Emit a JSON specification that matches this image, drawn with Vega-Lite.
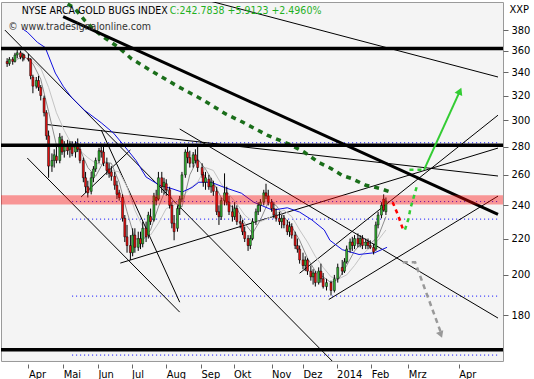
{
"$schema":"https://vega.github.io/schema/vega-lite/v6.json",
"width":502,"height":359,"autosize":"none",
"padding":{"left":1,"top":2,"right":31,"bottom":18},
"background":"#ffffff",
"config":{"view":{"fill":"#f4f4f4","stroke":"#9a9a9a","strokeWidth":1},"font":"DejaVu Sans Condensed"},
"datasets":{
"candles":[
{"d":"2013-03-13","o":350,"h":353,"l":345,"c":348},
{"d":"2013-03-15","o":348,"h":354,"l":346,"c":352},
{"d":"2013-03-18","o":352,"h":354,"l":347,"c":350},
{"d":"2013-03-20","o":350,"h":358,"l":349,"c":356},
{"d":"2013-03-22","o":356,"h":361,"l":353,"c":358},
{"d":"2013-03-25","o":358,"h":360,"l":352,"c":354},
{"d":"2013-03-27","o":354,"h":358,"l":350,"c":356},
{"d":"2013-03-28","o":356,"h":357,"l":351,"c":353},
{"d":"2013-04-01","o":353,"h":357,"l":350,"c":352},
{"d":"2013-04-03","o":352,"h":353,"l":334,"c":337},
{"d":"2013-04-05","o":336,"h":338,"l":322,"c":328},
{"d":"2013-04-08","o":328,"h":336,"l":326,"c":333},
{"d":"2013-04-10","o":333,"h":337,"l":324,"c":327},
{"d":"2013-04-12","o":327,"h":329,"l":316,"c":320},
{"d":"2013-04-15","o":318,"h":320,"l":303,"c":306},
{"d":"2013-04-17","o":306,"h":308,"l":285,"c":288},
{"d":"2013-04-19","o":288,"h":292,"l":258,"c":266},
{"d":"2013-04-22","o":266,"h":275,"l":262,"c":270},
{"d":"2013-04-24","o":270,"h":278,"l":265,"c":274},
{"d":"2013-04-26","o":273,"h":280,"l":268,"c":270},
{"d":"2013-04-29","o":270,"h":290,"l":268,"c":287},
{"d":"2013-05-01","o":285,"h":288,"l":274,"c":276},
{"d":"2013-05-03","o":277,"h":284,"l":272,"c":280},
{"d":"2013-05-06","o":280,"h":285,"l":274,"c":277},
{"d":"2013-05-08","o":278,"h":284,"l":272,"c":282},
{"d":"2013-05-10","o":281,"h":284,"l":273,"c":275},
{"d":"2013-05-13","o":276,"h":284,"l":272,"c":282},
{"d":"2013-05-15","o":282,"h":286,"l":276,"c":278},
{"d":"2013-05-17","o":278,"h":280,"l":268,"c":270},
{"d":"2013-05-20","o":270,"h":272,"l":255,"c":258},
{"d":"2013-05-22","o":258,"h":262,"l":248,"c":252},
{"d":"2013-05-24","o":252,"h":256,"l":245,"c":248},
{"d":"2013-05-27","o":249,"h":262,"l":247,"c":258},
{"d":"2013-05-29","o":258,"h":266,"l":255,"c":264},
{"d":"2013-05-31","o":264,"h":272,"l":262,"c":270},
{"d":"2013-06-03","o":270,"h":279,"l":268,"c":277},
{"d":"2013-06-05","o":277,"h":282,"l":272,"c":276},
{"d":"2013-06-07","o":276,"h":281,"l":266,"c":268},
{"d":"2013-06-10","o":268,"h":272,"l":260,"c":263},
{"d":"2013-06-12","o":264,"h":268,"l":258,"c":261},
{"d":"2013-06-14","o":262,"h":266,"l":256,"c":259},
{"d":"2013-06-17","o":259,"h":262,"l":250,"c":253},
{"d":"2013-06-19","o":253,"h":256,"l":244,"c":247},
{"d":"2013-06-21","o":248,"h":250,"l":243,"c":245},
{"d":"2013-06-24","o":245,"h":247,"l":230,"c":232},
{"d":"2013-06-26","o":232,"h":234,"l":218,"c":221},
{"d":"2013-06-28","o":221,"h":228,"l":212,"c":216},
{"d":"2013-07-01","o":216,"h":222,"l":208,"c":212},
{"d":"2013-07-03","o":212,"h":226,"l":210,"c":222},
{"d":"2013-07-05","o":222,"h":226,"l":212,"c":215},
{"d":"2013-07-08","o":215,"h":224,"l":213,"c":220},
{"d":"2013-07-10","o":220,"h":224,"l":214,"c":217},
{"d":"2013-07-12","o":217,"h":230,"l":215,"c":226},
{"d":"2013-07-15","o":226,"h":230,"l":218,"c":221},
{"d":"2013-07-17","o":222,"h":236,"l":220,"c":234},
{"d":"2013-07-19","o":233,"h":238,"l":228,"c":230},
{"d":"2013-07-22","o":231,"h":248,"l":230,"c":246},
{"d":"2013-07-24","o":245,"h":250,"l":240,"c":243},
{"d":"2013-07-26","o":244,"h":262,"l":243,"c":258},
{"d":"2013-07-29","o":258,"h":262,"l":248,"c":252},
{"d":"2013-07-31","o":252,"h":258,"l":247,"c":255},
{"d":"2013-08-02","o":254,"h":257,"l":246,"c":250},
{"d":"2013-08-05","o":250,"h":252,"l":238,"c":240},
{"d":"2013-08-07","o":240,"h":242,"l":226,"c":229},
{"d":"2013-08-09","o":229,"h":234,"l":219,"c":224},
{"d":"2013-08-12","o":226,"h":240,"l":224,"c":238},
{"d":"2013-08-14","o":238,"h":246,"l":234,"c":244},
{"d":"2013-08-16","o":244,"h":262,"l":242,"c":260},
{"d":"2013-08-19","o":260,"h":278,"l":258,"c":276},
{"d":"2013-08-21","o":276,"h":280,"l":268,"c":272},
{"d":"2013-08-23","o":272,"h":277,"l":265,"c":268},
{"d":"2013-08-26","o":268,"h":276,"l":265,"c":274},
{"d":"2013-08-28","o":274,"h":278,"l":268,"c":270},
{"d":"2013-08-30","o":270,"h":280,"l":262,"c":265},
{"d":"2013-09-03","o":265,"h":268,"l":258,"c":260},
{"d":"2013-09-04","o":260,"h":262,"l":252,"c":255},
{"d":"2013-09-06","o":255,"h":262,"l":250,"c":258},
{"d":"2013-09-09","o":257,"h":260,"l":250,"c":252},
{"d":"2013-09-11","o":252,"h":258,"l":248,"c":255},
{"d":"2013-09-13","o":253,"h":256,"l":246,"c":249},
{"d":"2013-09-16","o":249,"h":252,"l":234,"c":236},
{"d":"2013-09-18","o":236,"h":240,"l":228,"c":233},
{"d":"2013-09-20","o":233,"h":245,"l":231,"c":243},
{"d":"2013-09-23","o":243,"h":261,"l":240,"c":248},
{"d":"2013-09-25","o":248,"h":252,"l":240,"c":242},
{"d":"2013-09-27","o":242,"h":246,"l":234,"c":236},
{"d":"2013-09-30","o":236,"h":240,"l":230,"c":233},
{"d":"2013-10-02","o":233,"h":242,"l":231,"c":238},
{"d":"2013-10-04","o":238,"h":240,"l":228,"c":230},
{"d":"2013-10-07","o":230,"h":234,"l":226,"c":229},
{"d":"2013-10-09","o":229,"h":231,"l":222,"c":224},
{"d":"2013-10-11","o":224,"h":227,"l":218,"c":220},
{"d":"2013-10-14","o":220,"h":222,"l":213,"c":216},
{"d":"2013-10-16","o":216,"h":222,"l":214,"c":220},
{"d":"2013-10-18","o":220,"h":232,"l":219,"c":230},
{"d":"2013-10-21","o":230,"h":238,"l":228,"c":236},
{"d":"2013-10-23","o":236,"h":242,"l":234,"c":240},
{"d":"2013-10-25","o":240,"h":244,"l":236,"c":242},
{"d":"2013-10-28","o":242,"h":250,"l":240,"c":248},
{"d":"2013-10-30","o":248,"h":254,"l":244,"c":246},
{"d":"2013-11-01","o":246,"h":250,"l":240,"c":242},
{"d":"2013-11-04","o":242,"h":244,"l":236,"c":238},
{"d":"2013-11-06","o":238,"h":242,"l":232,"c":234},
{"d":"2013-11-08","o":234,"h":238,"l":230,"c":232},
{"d":"2013-11-11","o":232,"h":236,"l":228,"c":230},
{"d":"2013-11-13","o":230,"h":234,"l":226,"c":232},
{"d":"2013-11-15","o":232,"h":234,"l":226,"c":228},
{"d":"2013-11-18","o":228,"h":231,"l":222,"c":224},
{"d":"2013-11-20","o":224,"h":230,"l":221,"c":227},
{"d":"2013-11-22","o":227,"h":229,"l":220,"c":222},
{"d":"2013-11-25","o":222,"h":224,"l":214,"c":216},
{"d":"2013-11-27","o":216,"h":220,"l":212,"c":214},
{"d":"2013-11-29","o":214,"h":216,"l":206,"c":208},
{"d":"2013-12-02","o":208,"h":212,"l":203,"c":205},
{"d":"2013-12-04","o":205,"h":210,"l":202,"c":208},
{"d":"2013-12-06","o":208,"h":209,"l":200,"c":202},
{"d":"2013-12-09","o":202,"h":205,"l":197,"c":199},
{"d":"2013-12-11","o":199,"h":203,"l":195,"c":201},
{"d":"2013-12-13","o":201,"h":202,"l":194,"c":196},
{"d":"2013-12-16","o":196,"h":204,"l":195,"c":202},
{"d":"2013-12-18","o":202,"h":206,"l":196,"c":198},
{"d":"2013-12-20","o":198,"h":201,"l":193,"c":194},
{"d":"2013-12-23","o":194,"h":198,"l":192,"c":196},
{"d":"2013-12-27","o":196,"h":197,"l":189.5,"c":192},
{"d":"2013-12-30","o":192,"h":200,"l":191,"c":198},
{"d":"2014-01-02","o":198,"h":206,"l":196,"c":204},
{"d":"2014-01-06","o":204,"h":208,"l":200,"c":202},
{"d":"2014-01-08","o":202,"h":209,"l":201,"c":207},
{"d":"2014-01-10","o":207,"h":216,"l":206,"c":214},
{"d":"2014-01-13","o":214,"h":220,"l":212,"c":218},
{"d":"2014-01-15","o":218,"h":221,"l":213,"c":216},
{"d":"2014-01-17","o":216,"h":222,"l":214,"c":220},
{"d":"2014-01-20","o":220,"h":223,"l":215,"c":217},
{"d":"2014-01-22","o":217,"h":222,"l":215,"c":220},
{"d":"2014-01-24","o":220,"h":222,"l":214,"c":216},
{"d":"2014-01-27","o":216,"h":220,"l":214,"c":218},
{"d":"2014-01-29","o":218,"h":220,"l":214,"c":216},
{"d":"2014-01-31","o":216,"h":219,"l":214,"c":215},
{"d":"2014-02-03","o":215,"h":217,"l":211,"c":212.5},
{"d":"2014-02-05","o":214,"h":230,"l":213,"c":228},
{"d":"2014-02-07","o":228,"h":236,"l":226,"c":234},
{"d":"2014-02-10","o":234,"h":242,"l":232,"c":240},
{"d":"2014-02-12","o":244,"h":247,"l":236,"c":237},
{"d":"2014-02-14","o":236,"h":245,"l":234,"c":242.78}
],
"g10":[
{"d":"2013-03-22","v":352},{"d":"2013-03-28","v":355},{"d":"2013-04-05","v":348},{"d":"2013-04-12","v":334},{"d":"2013-04-19","v":307},{"d":"2013-04-26","v":281},{"d":"2013-05-03","v":276},{"d":"2013-05-10","v":280},{"d":"2013-05-17","v":278},{"d":"2013-05-24","v":265},{"d":"2013-05-31","v":259},{"d":"2013-06-07","v":269},{"d":"2013-06-14","v":268},{"d":"2013-06-21","v":255},{"d":"2013-06-28","v":236},{"d":"2013-07-05","v":220},{"d":"2013-07-12","v":219},{"d":"2013-07-19","v":225},{"d":"2013-07-26","v":239},{"d":"2013-08-02","v":251},{"d":"2013-08-09","v":242},{"d":"2013-08-16","v":239},{"d":"2013-08-23","v":260},{"d":"2013-08-30","v":271},{"d":"2013-09-06","v":264},{"d":"2013-09-13","v":255},{"d":"2013-09-20","v":245},{"d":"2013-09-27","v":240},{"d":"2013-10-04","v":238},{"d":"2013-10-11","v":229},{"d":"2013-10-18","v":223},{"d":"2013-10-25","v":231},{"d":"2013-11-01","v":242},{"d":"2013-11-08","v":240},{"d":"2013-11-15","v":233},{"d":"2013-11-22","v":227},{"d":"2013-11-29","v":219},{"d":"2013-12-06","v":209},{"d":"2013-12-13","v":202},{"d":"2013-12-20","v":199},{"d":"2013-12-27","v":196},{"d":"2014-01-03","v":198},{"d":"2014-01-10","v":205},{"d":"2014-01-17","v":213},{"d":"2014-01-24","v":218},{"d":"2014-01-31","v":217},{"d":"2014-02-07","v":221},{"d":"2014-02-14","v":233}
],
"g20":[
{"d":"2013-04-05","v":350},{"d":"2013-04-12","v":344},{"d":"2013-04-19","v":327},{"d":"2013-04-26","v":306},{"d":"2013-05-03","v":292},{"d":"2013-05-10","v":281},{"d":"2013-05-17","v":277},{"d":"2013-05-24","v":272},{"d":"2013-05-31","v":268},{"d":"2013-06-07","v":267},{"d":"2013-06-14","v":263},{"d":"2013-06-21","v":262},{"d":"2013-06-28","v":252},{"d":"2013-07-05","v":237},{"d":"2013-07-12","v":227},{"d":"2013-07-19","v":222},{"d":"2013-07-26","v":229},{"d":"2013-08-02","v":238},{"d":"2013-08-09","v":240},{"d":"2013-08-16","v":245},{"d":"2013-08-23","v":251},{"d":"2013-08-30","v":255},{"d":"2013-09-06","v":265},{"d":"2013-09-13","v":263},{"d":"2013-09-20","v":254},{"d":"2013-09-27","v":247},{"d":"2013-10-04","v":241},{"d":"2013-10-11","v":234},{"d":"2013-10-18","v":230},{"d":"2013-10-25","v":230},{"d":"2013-11-01","v":232},{"d":"2013-11-08","v":235},{"d":"2013-11-15","v":237},{"d":"2013-11-22","v":233},{"d":"2013-11-29","v":225},{"d":"2013-12-06","v":218},{"d":"2013-12-13","v":210},{"d":"2013-12-20","v":204},{"d":"2013-12-27","v":199},{"d":"2014-01-03","v":198},{"d":"2014-01-10","v":200},{"d":"2014-01-17","v":205},{"d":"2014-01-24","v":211},{"d":"2014-01-31","v":215},{"d":"2014-02-07","v":219},{"d":"2014-02-14","v":225}
],
"blue":[
{"d":"2013-03-27","v":381},{"d":"2013-03-31","v":378},{"d":"2013-04-09","v":368},{"d":"2013-04-16","v":363},{"d":"2013-04-25","v":339.5},{"d":"2013-05-02","v":328},{"d":"2013-05-09","v":319},{"d":"2013-05-21","v":308},{"d":"2013-06-05","v":298},{"d":"2013-06-16","v":290},{"d":"2013-06-25","v":281},{"d":"2013-07-06","v":270},{"d":"2013-07-15","v":258.5},{"d":"2013-07-27","v":253},{"d":"2013-08-08","v":250.5},{"d":"2013-08-16","v":248.5},{"d":"2013-08-25","v":251.5},{"d":"2013-08-31","v":255},{"d":"2013-09-11","v":255},{"d":"2013-09-23","v":251.5},{"d":"2013-10-08","v":247.8},{"d":"2013-10-19","v":242},{"d":"2013-11-05","v":237},{"d":"2013-11-18","v":238.5},{"d":"2013-11-29","v":235.8},{"d":"2013-12-10","v":231},{"d":"2013-12-21","v":225},{"d":"2013-12-26","v":219},{"d":"2014-01-06","v":213.7},{"d":"2014-01-21","v":211},{"d":"2014-02-04","v":212},{"d":"2014-02-15","v":215}
],
"ma200":[
{"d":"2013-05-06","v":406.8},{"d":"2013-05-12","v":402.6},{"d":"2013-05-21","v":390},{"d":"2013-05-30","v":380},{"d":"2013-06-07","v":373},{"d":"2013-06-20","v":363.5},{"d":"2013-07-02","v":352.5},{"d":"2013-07-21","v":340.6},{"d":"2013-08-12","v":328},{"d":"2013-09-03","v":316.8},{"d":"2013-09-24","v":305},{"d":"2013-10-09","v":298.6},{"d":"2013-10-31","v":288.5},{"d":"2013-11-20","v":281.6},{"d":"2013-12-03","v":276},{"d":"2013-12-16","v":268.6},{"d":"2013-12-27","v":264.4},{"d":"2014-01-06","v":259.6},{"d":"2014-01-14","v":257.6},{"d":"2014-01-27","v":253},{"d":"2014-02-08","v":251},{"d":"2014-02-18","v":248.6}
],
"dotted":[
{"d":"2013-05-10","d2":"2014-05-25","v":282.8},
{"d":"2013-05-10","d2":"2014-05-25","v":242.4},
{"d":"2013-05-10","d2":"2014-05-25","v":231.5},
{"d":"2013-05-10","d2":"2014-05-25","v":189.2},
{"d":"2013-05-10","d2":"2014-05-25","v":162.1}
],
"thin":[
{"id":"a","d":"2013-09-07","v":411},{"id":"a","d":"2014-05-25","v":336},
{"id":"b","d":"2013-03-11","v":380},{"id":"b","d":"2013-12-28","v":159.6},
{"id":"c","d":"2013-03-31","v":271.7},{"id":"c","d":"2013-08-14","v":181.4},
{"id":"e","d":"2013-06-05","v":292.4},{"id":"e","d":"2013-08-14","v":186.2},
{"id":"f","d":"2013-06-22","v":206.3},{"id":"f","d":"2014-05-25","v":278.9},
{"id":"g","d":"2013-04-18","v":296.6},{"id":"g","d":"2014-05-25","v":259.2},
{"id":"h","d":"2013-11-29","v":200.9},{"id":"h","d":"2014-05-25","v":304},
{"id":"i","d":"2013-12-25","v":187.5},{"id":"i","d":"2014-05-25","v":245.9},
{"id":"j","d":"2013-08-14","v":293.2},{"id":"j","d":"2014-05-25","v":178.6},
{"id":"k","d":"2013-05-18","v":245.3},{"id":"k","d":"2013-07-01","v":277.5}
],
"thick":[{"d":"2013-05-02","v":393.6},{"d":"2014-05-25","v":234.4}],
"hlines":[{"v":362},{"v":281},{"v":164.4}],
"band":[{"v":240.5,"v2":246.5}],
"proj":[
{"id":"red","d":"2014-02-20","v":242},{"id":"red","d":"2014-02-25","v":233.6},{"id":"red","d":"2014-03-01","v":225.8},
{"id":"gdash","d":"2014-03-03","v":225.2},{"id":"gdash","d":"2014-03-06","v":231.5},{"id":"gdash","d":"2014-03-08","v":238.4},{"id":"gdash","d":"2014-03-11","v":245.7},{"id":"gdash","d":"2014-03-14","v":253.4},
{"id":"ghor","d":"2014-03-07","v":263.4},{"id":"ghor","d":"2014-03-20","v":263.4},
{"id":"gsolid","d":"2014-03-20","v":263.4},{"id":"gsolid","d":"2014-04-21","v":323.8},
{"id":"gray","d":"2014-03-01","v":206.8},{"id":"gray","d":"2014-03-12","v":206.8},{"id":"gray","d":"2014-04-04","v":172}
],
"heads":[{"id":"green","d":"2014-04-21","v":323.8},{"id":"gray","d":"2014-04-04","v":171}],
"labels":[
{"id":"name","d":"2013-03-26","v":396.3,"t":"NYSE ARCA GOLD BUGS INDEX"},
{"id":"quote","d":"2013-08-05","v":396.3,"t":"C:242.7838 +5.9123 +2.4960%"},
{"id":"copy","d":"2013-03-14","v":380,"t":"© www.tradesignalonline.com"}
]
},
"layer":[
{"data":{"name":"dotted"},"mark":{"type":"rule","color":"#0000ff","strokeWidth":1,"strokeDash":[1,3]},
 "encoding":{
  "x":{"field":"d","type":"temporal","scale":{"type":"utc","domain":[{"year":2013,"month":3,"date":12,"utc":true},{"year":2014,"month":5,"date":25,"utc":true}]},
   "axis":{"title":null,"values":[{"year":2013,"month":4,"date":1,"utc":true},{"year":2013,"month":5,"date":2,"utc":true},{"year":2013,"month":6,"date":2,"utc":true},{"year":2013,"month":7,"date":2,"utc":true},{"year":2013,"month":8,"date":2,"utc":true},{"year":2013,"month":9,"date":2,"utc":true},{"year":2013,"month":10,"date":1,"utc":true},{"year":2013,"month":11,"date":4,"utc":true},{"year":2013,"month":12,"date":2,"utc":true},{"year":2014,"month":1,"date":1,"utc":true},{"year":2014,"month":2,"date":1,"utc":true},{"year":2014,"month":3,"date":6,"utc":true},{"year":2014,"month":4,"date":20,"utc":true}],
    "labelExpr":"utcmonth(datum.value)==0 ? ''+utcyear(datum.value) : ['Jan','Feb','Mrz','Apr','Mai','Jun','Jul','Aug','Sep','Okt','Nov','Dez'][utcmonth(datum.value)]",
    "labelAlign":"left","labelOffset":0,"labelPadding":0,"labelFlush":false,"labelOverlap":false,"labelBound":false,"tickSize":4,"offset":3,"tickColor":"#666666","domain":false,"grid":false,"labelFontSize":11,"labelColor":"#000000","labelFont":"DejaVu Sans Condensed"}},
  "x2":{"field":"d2"},
  "y":{"field":"v","type":"quantitative","scale":{"type":"log","domain":[159.6,409],"nice":false},
   "axis":{"orient":"right","title":"XXP","titleAngle":0,"titleAlign":"left","titleBaseline":"top","titleX":6,"titleY":1,"titleFontWeight":"normal","titleFontSize":11,"titleFont":"DejaVu Sans Condensed","titleColor":"#000000","values":[180,200,220,240,260,280,300,320,340,360,380],"format":"d","tickSize":5,"labelPadding":3,"tickColor":"#666666","domain":false,"grid":false,"labelFontSize":11,"labelColor":"#000000","labelFont":"DejaVu Sans Condensed","labelFlush":false,"labelOverlap":false}}
 }},
{"data":{"name":"thin"},"mark":{"type":"line","color":"#000000","strokeWidth":1,"clip":true},
 "encoding":{"x":{"field":"d","type":"temporal"},"y":{"field":"v","type":"quantitative"},"detail":{"field":"id"}}},
{"data":{"name":"g20"},"mark":{"type":"line","color":"#c4c4c4","strokeWidth":1},
 "encoding":{"x":{"field":"d","type":"temporal"},"y":{"field":"v","type":"quantitative"}}},
{"data":{"name":"g10"},"mark":{"type":"line","color":"#8e8e8e","strokeWidth":1},
 "encoding":{"x":{"field":"d","type":"temporal"},"y":{"field":"v","type":"quantitative"}}},
{"data":{"name":"blue"},"mark":{"type":"line","color":"#1010e0","strokeWidth":1},
 "encoding":{"x":{"field":"d","type":"temporal"},"y":{"field":"v","type":"quantitative"}}},
{"data":{"name":"ma200"},"mark":{"type":"line","color":"#1a6e1a","strokeWidth":3.5,"strokeDash":[5,5],"clip":true},
 "encoding":{"x":{"field":"d","type":"temporal"},"y":{"field":"v","type":"quantitative"}}},
{"data":{"name":"candles"},"mark":{"type":"rule","color":"#000000","strokeWidth":1},
 "encoding":{"x":{"field":"d","type":"temporal"},"y":{"field":"l","type":"quantitative"},"y2":{"field":"h"}}},
{"data":{"name":"candles"},"mark":{"type":"bar","size":2,"stroke":"#000000","strokeWidth":0.5},
 "encoding":{"x":{"field":"d","type":"temporal"},"y":{"field":"o","type":"quantitative"},"y2":{"field":"c"},
  "color":{"condition":{"test":"datum.c >= datum.o","value":"#33b533"},"value":"#e81010"}}},
{"data":{"name":"hlines"},"mark":{"type":"rule","color":"#000000","strokeWidth":3.5},
 "encoding":{"y":{"field":"v","type":"quantitative"}}},
{"data":{"name":"thick"},"mark":{"type":"line","color":"#000000","strokeWidth":3,"clip":true},
 "encoding":{"x":{"field":"d","type":"temporal"},"y":{"field":"v","type":"quantitative"}}},
{"data":{"name":"band"},"mark":{"type":"rect","color":"#ff0000","opacity":0.39},
 "encoding":{"y":{"field":"v","type":"quantitative"},"y2":{"field":"v2"}}},
{"data":{"name":"proj"},"transform":[{"filter":"datum.id=='red'"}],"mark":{"type":"line","color":"#ff0000","strokeWidth":2.5,"strokeDash":[4,4]},
 "encoding":{"x":{"field":"d","type":"temporal"},"y":{"field":"v","type":"quantitative"}}},
{"data":{"name":"proj"},"transform":[{"filter":"datum.id=='gdash' || datum.id=='ghor'"}],"mark":{"type":"line","color":"#33cc33","strokeWidth":2.5,"strokeDash":[4,4]},
 "encoding":{"x":{"field":"d","type":"temporal"},"y":{"field":"v","type":"quantitative"},"detail":{"field":"id"}}},
{"data":{"name":"proj"},"transform":[{"filter":"datum.id=='gsolid'"}],"mark":{"type":"line","color":"#33cc33","strokeWidth":2},
 "encoding":{"x":{"field":"d","type":"temporal"},"y":{"field":"v","type":"quantitative"}}},
{"data":{"name":"proj"},"transform":[{"filter":"datum.id=='gray'"}],"mark":{"type":"line","color":"#999999","strokeWidth":2.5,"strokeDash":[5,4]},
 "encoding":{"x":{"field":"d","type":"temporal"},"y":{"field":"v","type":"quantitative"}}},
{"data":{"name":"heads"},"transform":[{"filter":"datum.id=='green'"}],"mark":{"type":"point","shape":"triangle-up","filled":true,"color":"#33cc33","size":70,"angle":24,"opacity":1},
 "encoding":{"x":{"field":"d","type":"temporal"},"y":{"field":"v","type":"quantitative"}}},
{"data":{"name":"heads"},"transform":[{"filter":"datum.id=='gray'"}],"mark":{"type":"point","shape":"triangle-up","filled":true,"color":"#999999","size":60,"angle":159,"opacity":1},
 "encoding":{"x":{"field":"d","type":"temporal"},"y":{"field":"v","type":"quantitative"}}},
{"data":{"name":"labels"},"transform":[{"filter":"datum.id=='name'"}],"mark":{"type":"text","align":"left","baseline":"alphabetic","fontSize":10.5,"font":"DejaVu Sans Condensed","color":"#000000"},
 "encoding":{"x":{"field":"d","type":"temporal"},"y":{"field":"v","type":"quantitative"},"text":{"field":"t"}}},
{"data":{"name":"labels"},"transform":[{"filter":"datum.id=='quote'"}],"mark":{"type":"text","align":"left","baseline":"alphabetic","fontSize":10.5,"font":"DejaVu Sans Condensed","color":"#1fb01f"},
 "encoding":{"x":{"field":"d","type":"temporal"},"y":{"field":"v","type":"quantitative"},"text":{"field":"t"}}},
{"data":{"name":"labels"},"transform":[{"filter":"datum.id=='copy'"}],"mark":{"type":"text","align":"left","baseline":"alphabetic","fontSize":10.5,"font":"DejaVu Sans Condensed","color":"#333333"},
 "encoding":{"x":{"field":"d","type":"temporal"},"y":{"field":"v","type":"quantitative"},"text":{"field":"t"}}}
]
}
